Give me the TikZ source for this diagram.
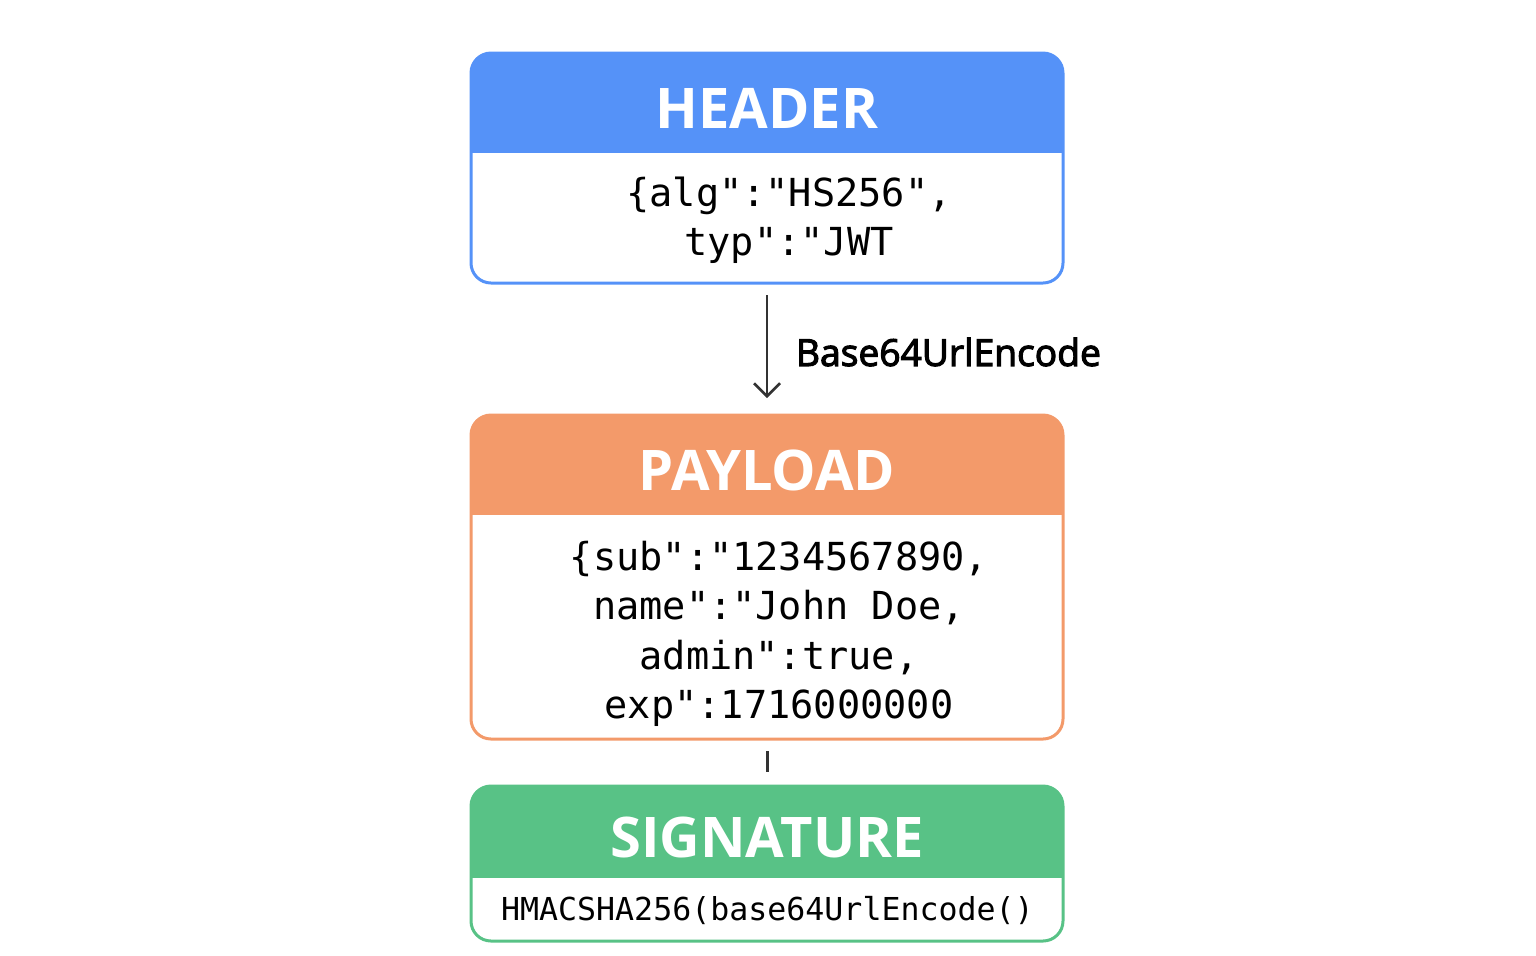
\documentclass[tikz,border=0pt]{standalone}
\usepackage{fontspec}
\setsansfont{Open Sans}
\setmonofont{DejaVu Sans Mono}
\newfontfamily\labelfont[FakeBold=3]{Open Sans}
\usetikzlibrary{arrows.meta}
\definecolor{hdrblue}{HTML}{5592F8}
\definecolor{payorange}{HTML}{F39A6A}
\definecolor{siggreen}{HTML}{58C286}
\definecolor{darkline}{HTML}{333333}

\tikzset{
  card/.style 2 args={draw=#1, line width=1.5pt, rounded corners=10pt,
    inner sep=0pt, outer sep=0pt, minimum width=296pt,
    path picture={\fill[#1, sharp corners] (path picture bounding box.north west)
      rectangle ([yshift=-#2]path picture bounding box.north east);}},
  title/.style={text=white, font=\sffamily\bfseries\fontsize{28}{30}\selectfont},
  code/.style={font=\ttfamily\fontsize{19.3}{24.7}\selectfont, align=center},
  conn/.style={draw=darkline, line width=1.25pt},
}

\begin{document}
\begin{tikzpicture}[x=0.5pt, y=-0.5pt]
                \useasboundingbox (0,0) rectangle (1536,955);

                % 1. The three cards, each with a coloured title band
                \foreach \nm/\col/\top/\bot/\band/\ttl in
                    {header/hdrblue/53/283/50pt/HEADER,
                     payload/payorange/415/739/50pt/PAYLOAD,
                     signature/siggreen/786/941/46pt/SIGNATURE}
                {
                    \node[card={\col}{\band}, minimum height={(\bot-\top)*0.5pt},
                        anchor=north] (\nm) at (767,\top) {};
                    \node[title, yshift=-\band/2-2.5pt] (\nm-title) at (\nm.north) {\ttl};
                }

                % 2. Card contents
                \node[code] (header-body) at (789,220)
                    {\{alg":"HS256",\\typ":"JWT};
                \node[code] (payload-body) at (779,634)
                    {\{sub":"1234567890,\\name":"John Doe,\\admin":true,\\exp":1716000000};
                \node[code, font=\ttfamily\fontsize{15.8}{18}\selectfont, anchor=west]
                    (signature-body) at (494,910) {HMACSHA256(base64UrlEncode()};

                % 3. Connectors
                \draw[conn, -{Straight Barb[length=6.5pt, width=13pt]},
                      shorten <=6pt, shorten >=8.5pt] (header) -- (payload)
                    node[midway, right, xshift=10.5pt, yshift=-1.5pt,
                         font=\labelfont\fontsize{18.6}{22}\selectfont] {Base64UrlEncode};
                \draw[conn, line width=1.5pt, shorten <=6pt, shorten >=7pt]
                    (payload) -- (signature);
            \end{tikzpicture}
\end{document}
